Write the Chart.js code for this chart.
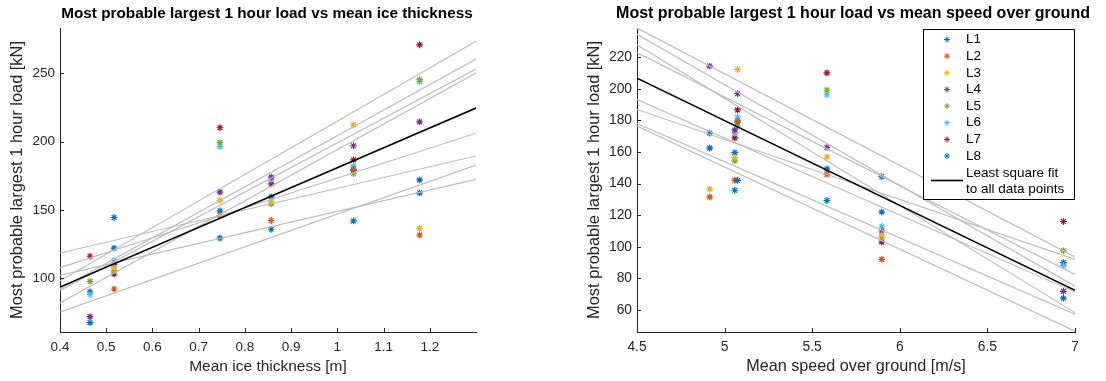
<!DOCTYPE html>
<html>
<head>
<meta charset="utf-8">
<script src="https://cdn.jsdelivr.net/npm/chart.js@4.4.0/dist/chart.umd.min.js"></script>
<style>
  html, body { margin: 0; padding: 0; background: #fff; }
  #wrap { position: relative; width: 1106px; height: 381px; }
  canvas { position: absolute; top: 0; }
</style>
</head>
<body>
<div id="wrap">
  <canvas id="iceChart" width="553" height="381" style="left:0"></canvas>
  <canvas id="speedChart" width="553" height="381" style="left:553px"></canvas>
</div>
<script>
// one entry per test condition
var iceThickness = [0.465, 0.517, 0.746, 0.857, 1.035, 1.178];
var meanSpeed = [6.934, 5.897, 5.584, 5.058, 5.074, 4.915];

var legNames = ["L1", "L2", "L3", "L4", "L5", "L6", "L7", "L8"];
var loadL1 = [67.4, 122, 129.3, 135.8, 142, 162.5];
var loadL2 = [null, 92, 145.9, 142.2, 179.7, 131.6];
var loadL3 = [null, 107.5, 157, 156.4, 212.3, 136.5];
var loadL4 = [71.8, 110, 163, 174, 197, 214.5];
var loadL5 = [97.6, 105.7, 199.3, 154.4, 176.5, 245.4];
var loadL6 = [88, 113, 196.3, 172, 182.2, 243.9];
var loadL7 = [116, 103, 210.2, 169, 186.7, 271];
var loadL8 = [90, 144.4, 149.3, 159.6, 179, 172];
var legLoads = [loadL1, loadL2, loadL3, loadL4, loadL5, loadL6, loadL7, loadL8];

// fitted lines, value at each end of the x range (L1..L8)
var iceRange = [0.4, 1.3];
var iceFitLeft = [75, 102, 118.4, 81.8, 91, 92, 98, 107.6];
var iceFitRight = [182.9, 172.4, 189.5, 250.3, 253.2, 260.6, 273.5, 206.2];
var iceFitAll = [93.4, 224.6];

var speedRange = [4.5, 7];
var speedFitLeft = [176.5, 178, 193.2, 228, 223, 234.6, 238.6, 187];
var speedFitRight = [46.5, 57.3, 71.3, 58.3, 82.4, 75, 93.6, 92];
var speedFitAll = [206.8, 72.4];

var iceTicks = [0.4, 0.5, 0.6, 0.7, 0.8, 0.9, 1, 1.1, 1.2];
var iceLoadTicks = [100, 150, 200, 250];
var speedTicks = [4.5, 5, 5.5, 6, 6.5, 7];
var speedLoadTicks = [60, 80, 100, 120, 140, 160, 180, 200, 220];

var colors = ["#0072BD", "#D95319", "#EDB120", "#7E2F8E", "#77AC30", "#4DBEEE", "#A2142F", "#0072BD"];
var font = "'Liberation Sans', Arial, Helvetica, sans-serif";
var axisColor = "#262626";

function buildDatasets(xs, range, fitLeft, fitRight, fitAll) {
  var sets = [];
  sets.push({
    label: "Least square fit\nto all data points",
    data: [{ x: range[0], y: fitAll[0] }, { x: range[1], y: fitAll[1] }],
    showLine: true, pointRadius: 0, borderColor: "#000", borderWidth: 1.6, order: 0
  });
  for (var i = 0; i < legNames.length; i++) {
    sets.push({
      label: "fit " + legNames[i],
      data: [{ x: range[0], y: fitLeft[i] }, { x: range[1], y: fitRight[i] }],
      showLine: true, pointRadius: 0, borderColor: "#bdbdbd", borderWidth: 1.2, order: 1
    });
  }
  for (var j = 0; j < legNames.length; j++) {
    var pts = [];
    legLoads[j].forEach(function (v, k) {
      if (v !== null) pts.push({ x: xs[k], y: v });
    });
    sets.push({
      label: legNames[j], data: pts, showLine: false,
      pointStyle: "star", pointRadius: 3.4, borderWidth: 1.2,
      borderColor: colors[j], backgroundColor: colors[j], order: 2
    });
  }
  return sets;
}

// MATLAB style tick marks pointing into the axes, plus the title centred over the axes
var innerTicks = {
  id: "innerTicks",
  afterDraw: function (chart) {
    var ctx = chart.ctx, a = chart.chartArea;
    ctx.save();
    ctx.strokeStyle = axisColor;
    ctx.lineWidth = 1;
    chart.scales.x.ticks.forEach(function (t) {
      var px = Math.round(chart.scales.x.getPixelForValue(t.value)) + 0.5;
      ctx.beginPath(); ctx.moveTo(px, a.bottom); ctx.lineTo(px, a.bottom - 4); ctx.stroke();
    });
    chart.scales.y.ticks.forEach(function (t) {
      var py = Math.round(chart.scales.y.getPixelForValue(t.value)) + 0.5;
      ctx.beginPath(); ctx.moveTo(a.left, py); ctx.lineTo(a.left + 4, py); ctx.stroke();
    });
    var t = chart.options.axesTitle;
    ctx.fillStyle = "#000";
    ctx.font = "bold " + t.size + "px " + font;
    ctx.textAlign = "center";
    ctx.textBaseline = "middle";
    ctx.fillText(t.text, (a.left + a.right) / 2 + t.shift, 14);
    ctx.restore();
  }
};

var legendBox = {
  id: "legendBox",
  afterDraw: function (chart) {
    var ctx = chart.ctx;
    var x0 = 370.5, y0 = 29.5, w = 151, h = 170;
    ctx.save();
    ctx.fillStyle = "#fff";
    ctx.fillRect(x0, y0, w, h);
    ctx.strokeStyle = "#000";
    ctx.lineWidth = 1;
    ctx.strokeRect(x0, y0, w, h);
    ctx.font = "13.5px " + font;
    ctx.textBaseline = "middle";
    var items = chart.data.datasets.filter(function (d) { return legNames.indexOf(d.label) >= 0; });
    items.forEach(function (d, i) {
      var y = 39.5 + i * 16.65;
      ctx.strokeStyle = d.borderColor;
      ctx.fillStyle = d.borderColor;
      Chart.helpers.drawPoint(ctx, { pointStyle: "star", radius: 3, borderWidth: 1, rotation: 0 }, 394, y);
      ctx.fillStyle = "#000";
      ctx.fillText(d.label, 413, y);
    });
    var fit = chart.data.datasets[0];
    ctx.strokeStyle = "#000";
    ctx.lineWidth = 1.6;
    ctx.beginPath(); ctx.moveTo(378, 180.5); ctx.lineTo(410, 180.5); ctx.stroke();
    ctx.fillStyle = "#000";
    fit.label.split("\n").forEach(function (line, i) {
      ctx.fillText(line, 413, 173 + i * 16.7);
    });
    ctx.restore();
  }
};

function makeChart(id, cfg) {
  return new Chart(document.getElementById(id), {
    type: "scatter",
    data: { datasets: cfg.datasets },
    options: {
      responsive: false,
      animation: false,
      axesTitle: { text: cfg.title, size: cfg.titleSize, shift: cfg.titleShift },
      layout: { padding: { left: 0, right: cfg.padRight, top: 28, bottom: 0 } },
      plugins: {
        legend: { display: false },
        tooltip: { enabled: false },
        title: { display: false }
      },
      scales: {
        x: {
          type: "linear", min: cfg.xRange[0], max: cfg.xRange[1],
          afterFit: function (s) { s.height = 49; },
          afterBuildTicks: function (s) { s.ticks = cfg.xTicks.map(function (v) { return { value: v }; }); },
          grid: { display: false, drawTicks: false },
          border: { color: axisColor, width: 1 },
          ticks: { color: axisColor, font: { family: font, size: cfg.tickSize }, padding: 7, maxRotation: 0,
            callback: function (v) { return String(v); } },
          title: { display: true, text: cfg.xTitle, color: axisColor,
            font: { family: font, size: cfg.xTitleSize }, padding: { top: 0, bottom: 5 } }
        },
        y: {
          type: "linear", min: cfg.yRange[0], max: cfg.yRange[1],
          afterFit: function (s) { s.width = cfg.yWidth; },
          afterBuildTicks: function (s) { s.ticks = cfg.yTicks.map(function (v) { return { value: v }; }); },
          grid: { display: false, drawTicks: false },
          border: { color: axisColor, width: 1 },
          ticks: { color: axisColor, font: { family: font, size: cfg.tickSize }, padding: 5,
            callback: function (v) { return String(v); } },
          title: { display: true, text: "Most probable largest 1 hour load [kN]", color: axisColor,
            font: { family: font, size: 16.4 }, padding: { top: cfg.yTitlePad, bottom: 0 } }
        }
      }
    },
    plugins: cfg.plugins
  });
}

makeChart("iceChart", {
  datasets: buildDatasets(iceThickness, iceRange, iceFitLeft, iceFitRight, iceFitAll),
  title: "Most probable largest 1 hour load vs mean ice thickness",
  titleSize: 15.3, titleShift: -1,
  xTitle: "Mean ice thickness [m]", xTitleSize: 15.5, tickSize: 13.5,
  xRange: iceRange, xTicks: iceTicks,
  yRange: [60.5, 283.3], yTicks: iceLoadTicks,
  yWidth: 60, yTitlePad: 8, padRight: 77,
  plugins: [innerTicks]
});

makeChart("speedChart", {
  datasets: buildDatasets(meanSpeed, speedRange, speedFitLeft, speedFitRight, speedFitAll),
  title: "Most probable largest 1 hour load vs mean speed over ground",
  titleSize: 16, titleShift: -3,
  xTitle: "Mean speed over ground [m/s]", xTitleSize: 16.2, tickSize: 13.8,
  xRange: speedRange, xTicks: speedTicks,
  yRange: [46, 238.6], yTicks: speedLoadTicks,
  yWidth: 84, yTitlePad: 32, padRight: 31,
  plugins: [innerTicks, legendBox]
});
</script>
</body>
</html>
